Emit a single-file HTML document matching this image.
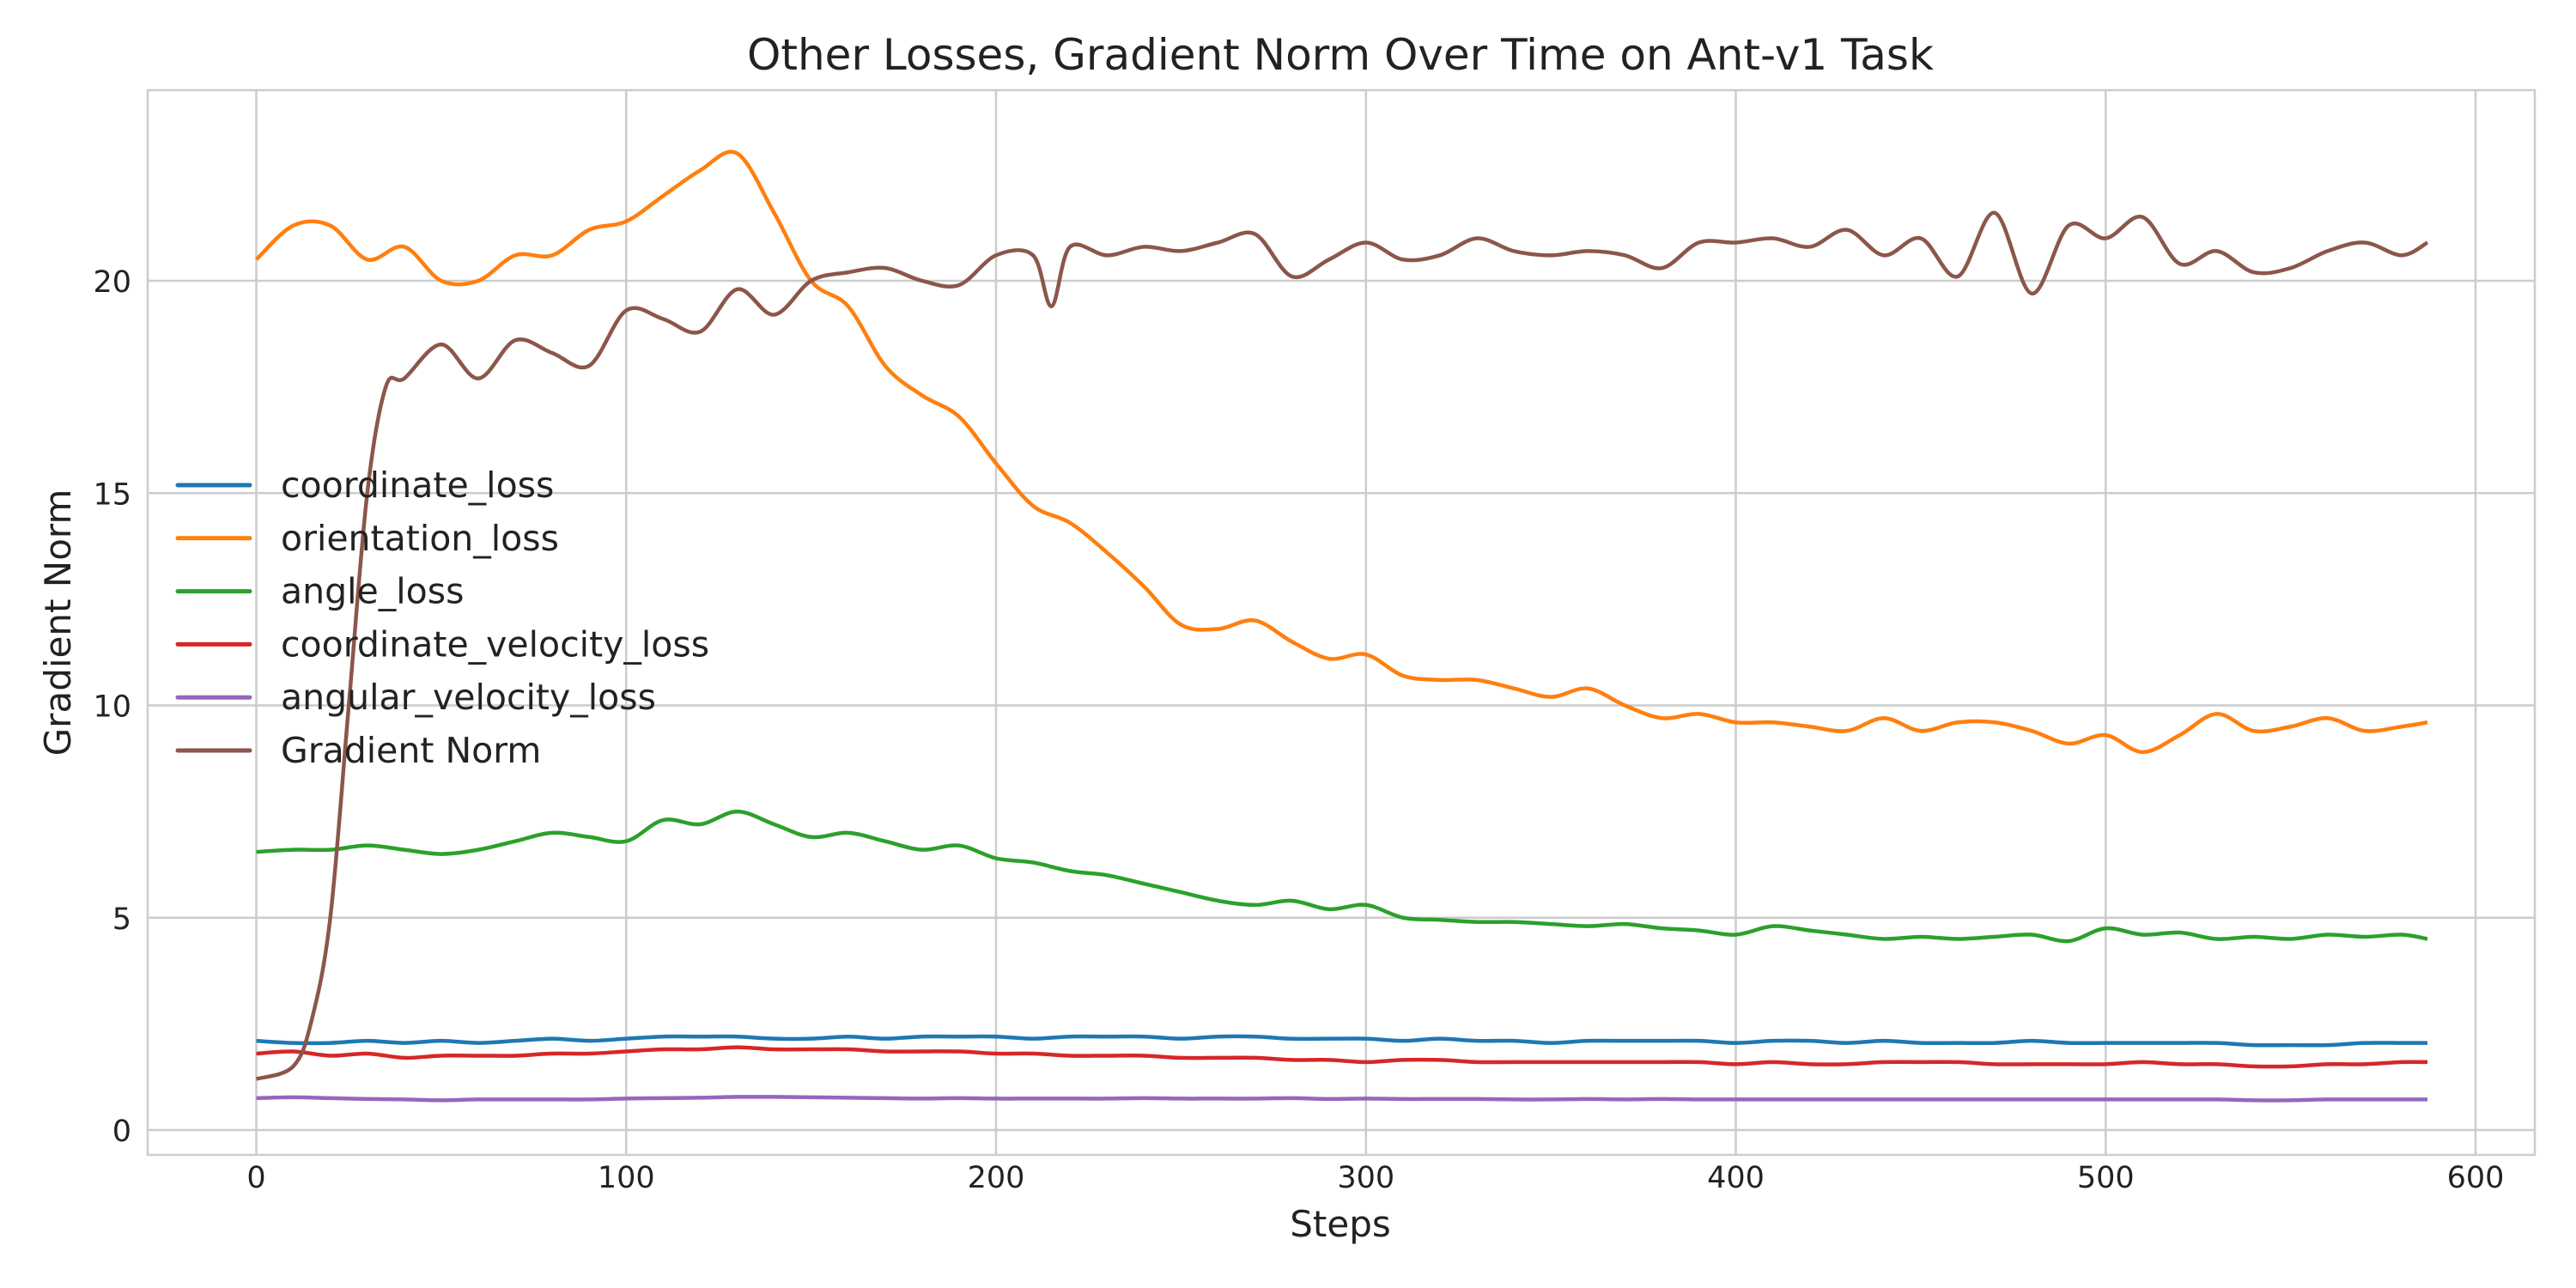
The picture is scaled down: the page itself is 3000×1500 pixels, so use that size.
<!DOCTYPE html>
<html><head><meta charset="utf-8">
<style>
html,body{margin:0;padding:0;background:#fff;}
svg{display:block;font-family:"DejaVu Sans","Liberation Sans",sans-serif;}
</style></head>
<body>
<svg id="chart" width="3000" height="1500" viewBox="0 0 3000 1500" xmlns="http://www.w3.org/2000/svg">
<rect width="3000" height="1500" fill="#fff"/>
<text x="1561" y="81" text-anchor="middle" font-size="50" fill="#222">Other Losses, Gradient Norm Over Time on Ant-v1 Task</text>
<g id="grid"></g>
<g id="ticks"></g>
<rect x="172" y="105" width="2780" height="1240" fill="none" stroke="#ccc" stroke-width="2.5"/>
<g id="series"></g>
<text x="1561" y="1440" text-anchor="middle" font-size="42" fill="#222">Steps</text>
<text x="82" y="725" text-anchor="middle" font-size="42" fill="#222" transform="rotate(-90 82 725)">Gradient Norm</text>
<g id="legend"></g>
</svg>
<script>
const xTicks=[0,100,200,300,400,500,600];
const yTicks=[0,5,10,15,20];
const seriesNames=["coordinate_loss","orientation_loss","angle_loss","coordinate_velocity_loss","angular_velocity_loss","Gradient Norm"];
const colors=["#1f77b4","#ff7f0e","#2ca02c","#d62728","#9467bd","#8c564b"];
const steps=[0,10,20,30,40,50,60,70,80,90,100,110,120,130,140,150,160,170,180,190,200,210,220,230,240,250,260,270,280,290,300,310,320,330,340,350,360,370,380,390,400,410,420,430,440,450,460,470,480,490,500,510,520,530,540,550,560,570,580,587];
const coordinateLoss=[2.1,2.05,2.05,2.1,2.05,2.1,2.05,2.1,2.15,2.1,2.15,2.2,2.2,2.2,2.15,2.15,2.2,2.15,2.2,2.2,2.2,2.15,2.2,2.2,2.2,2.15,2.2,2.2,2.15,2.15,2.15,2.1,2.15,2.1,2.1,2.05,2.1,2.1,2.1,2.1,2.05,2.1,2.1,2.05,2.1,2.05,2.05,2.05,2.1,2.05,2.05,2.05,2.05,2.05,2.0,2.0,2.0,2.05,2.05,2.05];
const orientationLoss=[20.5,21.3,21.3,20.5,20.8,20.0,20.0,20.6,20.6,21.2,21.4,22.0,22.6,23.0,21.6,20.0,19.4,18.0,17.3,16.8,15.7,14.7,14.3,13.6,12.8,11.9,11.8,12.0,11.5,11.1,11.2,10.7,10.6,10.6,10.4,10.2,10.4,10.0,9.7,9.8,9.6,9.6,9.5,9.4,9.7,9.4,9.6,9.6,9.4,9.1,9.3,8.9,9.3,9.8,9.4,9.5,9.7,9.4,9.5,9.6];
const angleLoss=[6.55,6.6,6.6,6.7,6.6,6.5,6.6,6.8,7.0,6.9,6.8,7.3,7.2,7.5,7.2,6.9,7.0,6.8,6.6,6.7,6.4,6.3,6.1,6.0,5.8,5.6,5.4,5.3,5.4,5.2,5.3,5.0,4.95,4.9,4.9,4.85,4.8,4.85,4.75,4.7,4.6,4.8,4.7,4.6,4.5,4.55,4.5,4.55,4.6,4.45,4.75,4.6,4.65,4.5,4.55,4.5,4.6,4.55,4.6,4.5];
const coordVelLoss=[1.8,1.85,1.75,1.8,1.7,1.75,1.75,1.75,1.8,1.8,1.85,1.9,1.9,1.95,1.9,1.9,1.9,1.85,1.85,1.85,1.8,1.8,1.75,1.75,1.75,1.7,1.7,1.7,1.65,1.65,1.6,1.65,1.65,1.6,1.6,1.6,1.6,1.6,1.6,1.6,1.55,1.6,1.55,1.55,1.6,1.6,1.6,1.55,1.55,1.55,1.55,1.6,1.55,1.55,1.5,1.5,1.55,1.55,1.6,1.6];
const angularVelLoss=[0.75,0.77,0.75,0.73,0.72,0.7,0.72,0.72,0.72,0.72,0.74,0.75,0.76,0.78,0.78,0.77,0.76,0.75,0.74,0.75,0.74,0.74,0.74,0.74,0.75,0.74,0.74,0.74,0.75,0.73,0.74,0.73,0.73,0.73,0.72,0.72,0.73,0.72,0.73,0.72,0.72,0.72,0.72,0.72,0.72,0.72,0.72,0.72,0.72,0.72,0.72,0.72,0.72,0.72,0.7,0.7,0.72,0.72,0.72,0.72];
const gradSteps=[0,10,15,20,25,30,35,40,50,60,70,80,90,100,110,120,130,140,150,160,170,180,190,200,210,215,220,230,240,250,260,270,280,290,300,310,320,330,340,350,360,370,380,390,400,410,420,430,440,450,460,470,480,490,500,510,520,530,540,550,560,570,580,587];
const gradNorm=[1.2,1.5,2.6,5,10,15,17.5,17.7,18.5,17.7,18.6,18.3,18.0,19.3,19.1,18.8,19.8,19.2,20.0,20.2,20.3,20.0,19.9,20.6,20.6,19.4,20.8,20.6,20.8,20.7,20.9,21.1,20.1,20.5,20.9,20.5,20.6,21.0,20.7,20.6,20.7,20.6,20.3,20.9,20.9,21.0,20.8,21.2,20.6,21.0,20.1,21.6,19.7,21.3,21.0,21.5,20.4,20.7,20.2,20.3,20.7,20.9,20.6,20.9];

const NS="http://www.w3.org/2000/svg";
const X0=172,X1=2952,Y0=105,Y1=1345;
function xs(v){return 298.5+v*(2883-298.5)/600;}
function ys(v){return 1316-v*(1316-327)/20;}
function mk(tag,attrs,parent){const e=document.createElementNS(NS,tag);for(const k in attrs)e.setAttribute(k,attrs[k]);parent.appendChild(e);return e;}
const grid=document.getElementById('grid'),ticks=document.getElementById('ticks');
xTicks.forEach(t=>{
  const l=mk('line',{x1:xs(t),x2:xs(t),y1:Y0,y2:Y1,stroke:'#cccccc','stroke-width':2.5},grid);
  
  
  const tx=mk('text',{x:xs(t),y:1383,'text-anchor':'middle','font-size':35,fill:'#222'},ticks);
  tx.textContent=t;
  
  
});
yTicks.forEach(t=>{
  const l=mk('line',{x1:X0,x2:X1,y1:ys(t),y2:ys(t),stroke:'#cccccc','stroke-width':2.5},grid);
  
  
  const tx=mk('text',{x:153,y:ys(t)+13,'text-anchor':'end','font-size':35,fill:'#222'},ticks);
  tx.textContent=t;
  
  
});
function pathFor(sx,sy){
  const p=sx.map((s,i)=>[xs(s),ys(sy[i])]);
  let d='M'+p[0][0]+','+p[0][1];
  for(let i=0;i<p.length-1;i++){
    const a=p[Math.max(0,i-1)],b=p[i],c=p[i+1],e=p[Math.min(p.length-1,i+2)];
    const c1x=b[0]+(c[0]-a[0])/6,c1y=b[1]+(c[1]-a[1])/6,c2x=c[0]-(e[0]-b[0])/6,c2y=c[1]-(e[1]-b[1])/6;
    d+=' C'+c1x+','+c1y+' '+c2x+','+c2y+' '+c[0]+','+c[1];
  }
  return d;
}
const allData=[[steps,coordinateLoss],[steps,orientationLoss],[steps,angleLoss],[steps,coordVelLoss],[steps,angularVelLoss],[gradSteps,gradNorm]];
const sg=document.getElementById('series');
const lineNames=['coordinate-loss-line','orientation-loss-line','angle-loss-line','coordinate-velocity-loss-line','angular-velocity-loss-line','gradient-norm-line'];
allData.forEach((d,i)=>{
  const p=mk('path',{d:pathFor(d[0],d[1]),fill:'none',stroke:colors[i],'stroke-width':4.5,'stroke-linejoin':'round'},sg);
  
  
});
const lg=document.getElementById('legend');
seriesNames.forEach((n,i)=>{
  const y=565+i*61.8;
  const l=mk('line',{x1:207,x2:291,y1:y,y2:y,stroke:colors[i],'stroke-width':5,'stroke-linecap':'round'},lg);
  
  
  const t=mk('text',{x:327,y:y+14,'font-size':41,fill:'#222'},lg);
  t.textContent=n;
  
  
});
</script>
</body></html>
